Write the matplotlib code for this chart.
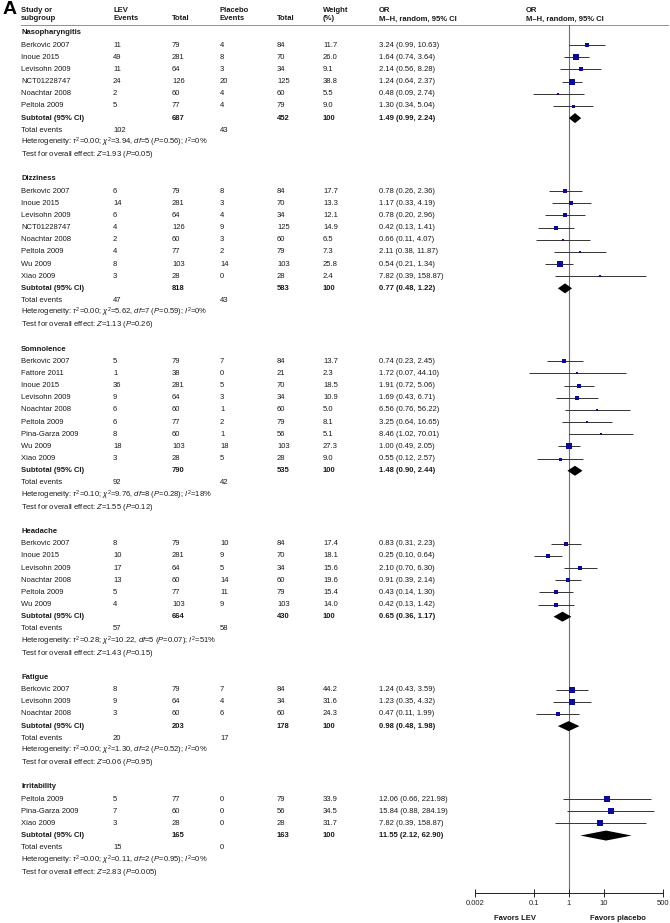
import matplotlib
matplotlib.use("Agg")
import matplotlib.pyplot as plt

plt.rcParams["font.family"] = ["Liberation Sans", "DejaVu Sans"]
plt.rcParams["mathtext.fontset"] = "custom"
plt.rcParams["mathtext.rm"] = "Liberation Sans"
plt.rcParams["mathtext.it"] = "Liberation Sans:italic"
plt.rcParams["mathtext.bf"] = "Liberation Sans:bold"

# ---- data ----
groups = ["Nasopharyngitis", "Dizziness", "Somnolence", "Headache", "Fatigue", "Irritability"]

studies = [
    ["Berkovic 2007", "Inoue 2015", "Levisohn 2009", "NCT01228747", "Noachtar 2008", "Peltola 2009"],
    ["Berkovic 2007", "Inoue 2015", "Levisohn 2009", "NCT01228747", "Noachtar 2008", "Peltola 2009",
     "Wu 2009", "Xiao 2009"],
    ["Berkovic 2007", "Fattore 2011", "Inoue 2015", "Levisohn 2009", "Noachtar 2008", "Peltola 2009",
     "Pina-Garza 2009", "Wu 2009", "Xiao 2009"],
    ["Berkovic 2007", "Inoue 2015", "Levisohn 2009", "Noachtar 2008", "Peltola 2009", "Wu 2009"],
    ["Berkovic 2007", "Levisohn 2009", "Noachtar 2008"],
    ["Peltola 2009", "Pina-Garza 2009", "Xiao 2009"],
]
lev_events = [[11, 49, 11, 24, 2, 5], [6, 14, 6, 4, 2, 4, 8, 3], [5, 1, 36, 9, 6, 6, 8, 18, 3],
              [8, 10, 17, 13, 5, 4], [8, 9, 3], [5, 7, 3]]
lev_total = [[79, 281, 64, 126, 60, 77], [79, 281, 64, 126, 60, 77, 103, 28],
             [79, 38, 281, 64, 60, 77, 60, 103, 28], [79, 281, 64, 60, 77, 103], [79, 64, 60], [77, 60, 28]]
pla_events = [[4, 8, 3, 20, 4, 4], [8, 3, 4, 9, 3, 2, 14, 0], [7, 0, 5, 3, 1, 2, 1, 18, 5],
              [10, 9, 5, 14, 11, 9], [7, 4, 6], [0, 0, 0]]
pla_total = [[84, 70, 34, 125, 60, 79], [84, 70, 34, 125, 60, 79, 103, 28],
             [84, 21, 70, 34, 60, 79, 56, 103, 28], [84, 70, 34, 60, 79, 103], [84, 34, 60], [79, 56, 28]]
weights = [[11.7, 26.0, 9.1, 38.8, 5.5, 9.0], [17.7, 13.3, 12.1, 14.9, 6.5, 7.3, 25.8, 2.4],
           [13.7, 2.3, 18.5, 10.9, 5.0, 8.1, 5.1, 27.3, 9.0], [17.4, 18.1, 15.6, 19.6, 15.4, 14.0],
           [44.2, 31.6, 24.3], [33.9, 34.5, 31.7]]
odds = [[3.24, 1.64, 2.14, 1.24, 0.48, 1.30], [0.78, 1.17, 0.78, 0.42, 0.66, 2.11, 0.54, 7.82],
        [0.74, 1.72, 1.91, 1.69, 6.56, 3.25, 8.46, 1.00, 0.55], [0.83, 0.25, 2.10, 0.91, 0.43, 0.42],
        [1.24, 1.23, 0.47], [12.06, 15.84, 7.82]]
ci_low = [[0.99, 0.74, 0.56, 0.64, 0.09, 0.34], [0.26, 0.33, 0.20, 0.13, 0.11, 0.38, 0.21, 0.39],
          [0.23, 0.07, 0.72, 0.43, 0.76, 0.64, 1.02, 0.49, 0.12], [0.31, 0.10, 0.70, 0.39, 0.14, 0.13],
          [0.43, 0.35, 0.11], [0.66, 0.88, 0.39]]
ci_high = [[10.63, 3.64, 8.28, 2.37, 2.74, 5.04], [2.36, 4.19, 2.96, 1.41, 4.07, 11.87, 1.34, 158.87],
           [2.45, 44.10, 5.06, 6.71, 56.22, 16.65, 70.01, 2.05, 2.57], [2.23, 0.64, 6.30, 2.14, 1.30, 1.42],
           [3.59, 4.32, 1.99], [221.98, 284.19, 158.87]]

sub_lev_total = [687, 818, 790, 664, 203, 165]
sub_pla_total = [452, 583, 535, 430, 178, 163]
sub_or = [1.49, 0.77, 1.48, 0.65, 0.98, 11.55]
sub_low = [0.99, 0.48, 0.90, 0.36, 0.48, 2.12]
sub_high = [2.24, 1.22, 2.44, 1.17, 1.98, 62.90]
tot_lev_events = [102, 47, 92, 57, 20, 15]
tot_pla_events = [43, 43, 42, 58, 17, 0]
het_tau2 = ["0.00", "0.00", "0.10", "0.28", "0.00", "0.00"]
het_chi2 = ["3.94", "5.62", "9.76", "10.22", "1.30", "0.11"]
het_df = [5, 7, 8, 5, 2, 2]
het_p = ["0.56", "0.59", "0.28", "0.07", "0.52", "0.95"]
het_i2 = ["0", "0", "18", "51", "0", "0"]
z_val = ["1.93", "1.13", "1.55", "1.43", "0.06", "2.83"]
z_p = ["0.05", "0.26", "0.12", "0.15", "0.95", "0.005"]

tick_vals = [0.002, 0.1, 1, 10, 500]
tick_labels = ["0.002", "0.1", "1", "10", "500"]

# ---- layout (pixels) ----
W, H = 670, 923
ROW0, ROWH = 33, 12.16
FS = 5.5
TXT = "#1a1a1a"
SQ = "#0a0aa0"
col_x = {"study": 21, "lev_ev": 113, "lev_n": 172, "pla_ev": 220, "pla_n": 277, "w": 323, "or": 379}


def ypix(row):
    return ROW0 + row * ROWH


fig = plt.figure(figsize=(W / 100, H / 100), dpi=100)
ax = fig.add_axes([0, 0, 1, 1])
ax.set_xlim(0, W)
ax.set_ylim(H, 0)
ax.axis("off")

axis_y = 893
top_y = 25
fa = fig.add_axes([475 / W, (H - axis_y) / H, (663 - 475) / W, (axis_y - top_y) / H])
fa.set_xscale("log")
fa.set_xlim(0.002, 500)
fa.set_ylim(axis_y, top_y)
fa.patch.set_alpha(0)
for s in ["left", "right", "top"]:
    fa.spines[s].set_visible(False)
fa.spines["bottom"].set_linewidth(0.7)
fa.spines["bottom"].set_color("#222222")
fa.set_yticks([])
fa.set_xticks(tick_vals)
fa.set_xticklabels(tick_labels)
fa.minorticks_off()
fa.tick_params(axis="x", direction="inout", length=6, width=0.7, labelsize=FS, pad=2,
               colors="#222222")
fa.axvline(1, color="#707070", lw=0.8, zorder=1)


def t(x, y, s, bold=False, **kw):
    ax.text(x, y, s, fontsize=FS, color=TXT, va="center", ha="left",
            fontweight="bold" if bold else "normal", **kw)


# header
ax.text(3, 10, "A", fontsize=14, fontweight="bold", va="center", ha="left", color="black")
hy1, hy2 = 10, 19
t(col_x["study"], hy1, "Study or", bold=True)
t(col_x["study"], hy2, "subgroup", bold=True)
t(col_x["lev_ev"], hy1, "LEV", bold=True)
t(col_x["lev_ev"], hy2, "Events", bold=True)
t(col_x["lev_n"], hy2, "Total", bold=True)
t(col_x["pla_ev"], hy1, "Placebo", bold=True)
t(col_x["pla_ev"], hy2, "Events", bold=True)
t(col_x["pla_n"], hy2, "Total", bold=True)
t(col_x["w"], hy1, "Weight", bold=True)
t(col_x["w"], hy2, "(%)", bold=True)
t(col_x["or"], hy1, "OR", bold=True)
t(col_x["or"], hy2, "M\u2013H, random, 95% CI", bold=True)
t(526, hy1, "OR", bold=True)
t(526, hy2, "M\u2013H, random, 95% CI", bold=True)
ax.plot([21, 668], [top_y, top_y], color="#909090", lw=0.7)

row = 0
for g in range(len(groups)):
    t(col_x["study"], ypix(row), groups[g], bold=True)
    row += 1
    for i, name in enumerate(studies[g]):
        y = ypix(row)
        t(col_x["study"], y, name)
        t(col_x["lev_ev"], y, str(lev_events[g][i]))
        t(col_x["lev_n"], y, str(lev_total[g][i]))
        t(col_x["pla_ev"], y, str(pla_events[g][i]))
        t(col_x["pla_n"], y, str(pla_total[g][i]))
        t(col_x["w"], y, f"{weights[g][i]:.1f}")
        t(col_x["or"], y, f"{odds[g][i]:.2f} ({ci_low[g][i]:.2f}, {ci_high[g][i]:.2f})")
        fa.hlines(y, ci_low[g][i], ci_high[g][i], color="#333333", lw=0.7, zorder=2)
        side = 1.0 * weights[g][i] ** 0.5 * 0.72
        fa.scatter([odds[g][i]], [y], marker="s", s=side ** 2, color=SQ, linewidths=0, zorder=3)
        row += 1
    y = ypix(row)
    t(col_x["study"], y, "Subtotal (95% CI)", bold=True)
    t(col_x["lev_n"], y, str(sub_lev_total[g]), bold=True)
    t(col_x["pla_n"], y, str(sub_pla_total[g]), bold=True)
    t(col_x["w"], y, "100", bold=True)
    t(col_x["or"], y, f"{sub_or[g]:.2f} ({sub_low[g]:.2f}, {sub_high[g]:.2f})", bold=True)
    dh = 5.0
    fa.fill([sub_low[g], sub_or[g], sub_high[g], sub_or[g]], [y, y - dh, y, y + dh],
            color="black", lw=0, zorder=3)
    row += 1
    y = ypix(row)
    t(col_x["study"], y, "Total events")
    t(col_x["lev_ev"], y, str(tot_lev_events[g]))
    t(col_x["pla_ev"], y, str(tot_pla_events[g]))
    row += 1
    t(col_x["study"], ypix(row),
      r"Heterogeneity: $\tau^2$=%s; $\chi^2$=%s, $df$=%d ($P$=%s); $I^2$=%s%%"
      % (het_tau2[g], het_chi2[g], het_df[g], het_p[g], het_i2[g]))
    row += 1
    t(col_x["study"], ypix(row),
      r"Test for overall effect: $Z$=%s ($P$=%s)" % (z_val[g], z_p[g]))
    row += 2

ax.text(515, 918, "Favors LEV", fontsize=FS, fontweight="bold", ha="center", va="center", color=TXT)
ax.text(618, 918, "Favors placebo", fontsize=FS, fontweight="bold", ha="center", va="center", color=TXT)

fig.savefig("out.png", dpi=100)
